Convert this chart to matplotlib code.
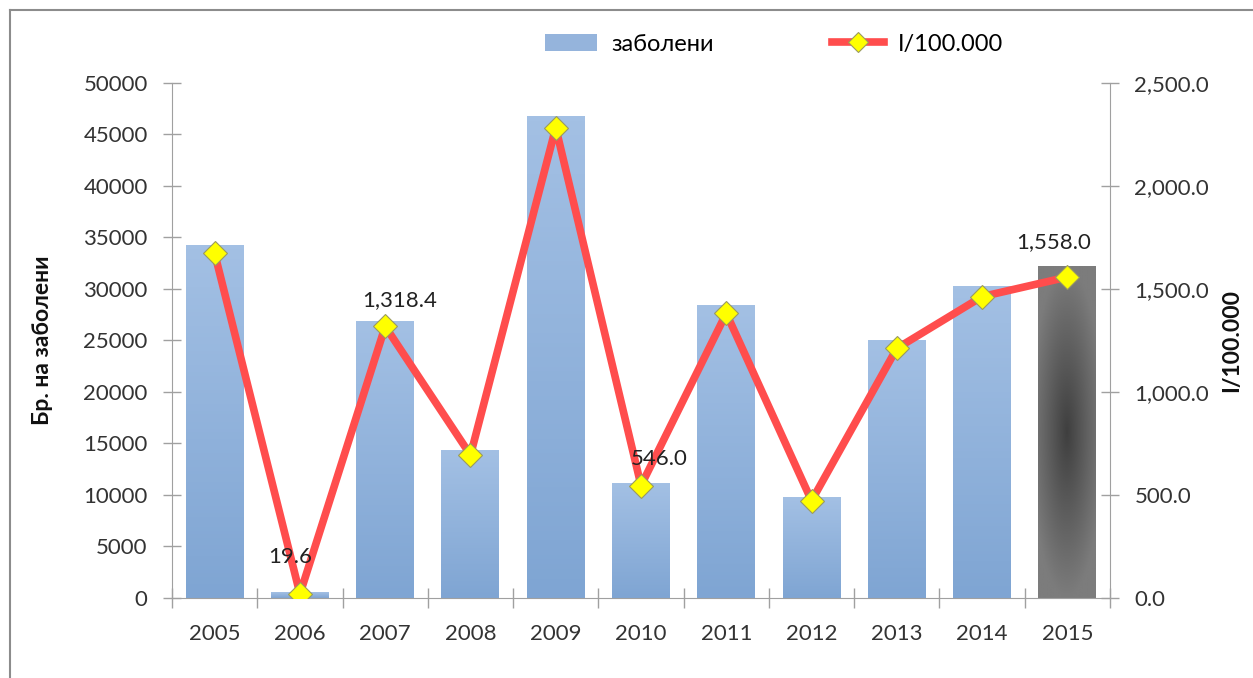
#!/usr/bin/env python3
# plot.py
# Bar + line combo chart: cases per year and incidence per 100.000

import matplotlib
matplotlib.use('Agg')
import matplotlib.pyplot as plt
from matplotlib.patches import Rectangle
from matplotlib.colors import LinearSegmentedColormap
from matplotlib.lines import Line2D
from matplotlib.ticker import FuncFormatter
import numpy as np

years = ['2005', '2006', '2007', '2008', '2009', '2010',
         '2011', '2012', '2013', '2014', '2015']
cases = [34200, 500, 26800, 14300, 46700, 11100,
         28350, 9800, 25000, 30200, 32200]
incidence = [1673, 19.6, 1318.4, 694, 2283, 546.0,
             1382, 472, 1212, 1463, 1558.0]
labelled = {'2006': '19.6', '2007': '1,318.4', '2010': '546.0', '2015': '1,558.0'}

left_ticks = list(range(0, 50001, 5000))
right_ticks = [0, 500, 1000, 1500, 2000, 2500]

# label placement relative to marker, in pixels (dx, dy)
label_offsets = {'2006': (-10, 37), '2007': (14, 26), '2010': (18, 27), '2015': (-14, 35)}

plt.rcParams['font.family'] = ['Lato', 'DejaVu Sans']

fig = plt.figure(figsize=(12.53, 6.78), dpi=100)
# chart frame: only top and left edges show
bx, by = 10 / 1253, 1 - 10 / 678
fig.lines.append(Line2D([bx, 1], [by, by], transform=fig.transFigure, color='#8c8c8c', linewidth=1.5))
fig.lines.append(Line2D([bx, bx], [0, by], transform=fig.transFigure, color='#8c8c8c', linewidth=1.5))

ax = fig.add_axes([0.1373, 0.118, 0.7486, 0.7596])
ax2 = ax.twinx()

x = np.arange(len(years))
width = 0.68

blue = LinearSegmentedColormap.from_list('b', ['#7fa5d3', '#a3c0e4'])
grey = LinearSegmentedColormap.from_list('g', ['#3f3f3f', '#7c7c7c'])
bars = ax.bar(x, cases, width=width, color='none', edgecolor='none', zorder=2)
for i, b in enumerate(bars):
    x0, w, h = b.get_x(), b.get_width(), b.get_height()
    if years[i] == '2015':
        gx, gy = np.meshgrid(np.linspace(-1, 1, 60), np.linspace(-1, 1, 120))
        img = np.clip(np.sqrt(gx ** 2 * 0.6 + gy ** 2), 0, 1)
        ax.imshow(img, extent=[x0, x0 + w, 0, h], origin='lower', cmap=grey,
                  aspect='auto', zorder=2, vmin=0, vmax=1)
    else:
        img = np.linspace(0, 1, 100).reshape(-1, 1)
        ax.imshow(img, extent=[x0, x0 + w, 0, h], origin='lower', cmap=blue,
                  aspect='auto', zorder=2, vmin=0, vmax=1)
ax.set_xlim(-0.5, len(years) - 0.5)
ax.set_ylim(0, 50000)

ax2.plot(x, incidence, color='#ff4d4d', linewidth=5.5, zorder=3,
         marker='D', markersize=12.5, markerfacecolor='#ffff00',
         markeredgecolor='#9a9a60', markeredgewidth=0.8)
ax2.set_ylim(0, 2500)

for i, y in enumerate(years):
    if y in labelled:
        dx, dy = label_offsets[y]
        ax2.annotate(labelled[y], (x[i], incidence[i]), xytext=(dx * 0.72, dy * 0.72),
                     textcoords='offset points', ha='center', va='center',
                     fontsize=16, color='#222222')

for a in (ax, ax2):
    a.spines['top'].set_visible(False)
    for s in ('left', 'right', 'bottom'):
        a.spines[s].set_color('#a0a0a0')
ax.spines['right'].set_visible(False)
ax2.spines['left'].set_visible(False)
ax2.spines['bottom'].set_visible(False)

ax.set_yticks(left_ticks)
ax.tick_params(axis='y', direction='inout', length=13, width=1, colors='#a0a0a0',
               labelcolor='#333333', labelsize=16, pad=11)
ax2.set_yticks(right_ticks)
ax2.yaxis.set_major_formatter(FuncFormatter(lambda v, p: f'{v:,.1f}'))
ax2.tick_params(axis='y', direction='inout', length=13, width=1, colors='#a0a0a0',
                labelcolor='#333333', labelsize=16, pad=11)

ax.set_xticks(x)
ax.set_xticklabels(years)
ax.set_xticks(np.arange(-0.5, len(years), 1), minor=True)
ax.tick_params(axis='x', which='major', length=0, labelsize=16, labelcolor='#333333', pad=19)
ax.tick_params(axis='x', which='minor', direction='inout', length=14, width=1, colors='#a0a0a0')

ax.set_ylabel('Бр. на заболени', fontsize=16.5, fontweight='bold', color='#111111', labelpad=22)
ax2.set_ylabel('I/100.000', fontsize=16.5, fontweight='bold', color='#111111', rotation=90, labelpad=9)

handles = [Rectangle((0, 0), 1, 1, facecolor='#95b4dc', edgecolor='none'),
           Line2D([], [], color='#ff4d4d', linewidth=5.5, marker='D', markersize=10,
                  markerfacecolor='#ffff00', markeredgecolor='#9a9a60', markeredgewidth=0.8)]
fig.legend(handles, ['заболени', 'I/100.000'], loc='center', bbox_to_anchor=(0.618, 0.935),
           ncol=2, frameon=False, fontsize=17, handlelength=2.2, columnspacing=5.0,
           handletextpad=0.6)

fig.savefig('out.png', dpi=100)
